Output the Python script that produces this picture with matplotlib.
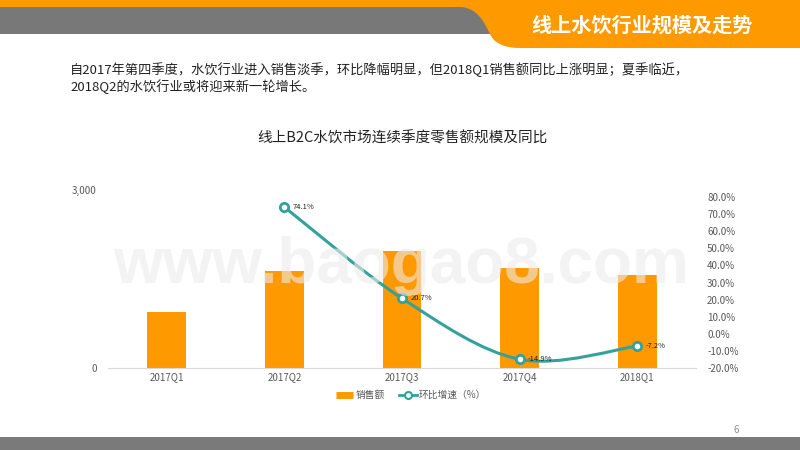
import matplotlib.pyplot as plt
import numpy as np
from matplotlib.path import Path
from matplotlib.patches import PathPatch, Rectangle
from matplotlib.lines import Line2D

plt.rcParams['font.family'] = ['Noto Sans CJK SC', 'DejaVu Sans']

# 数据
quarters = ['2017Q1', '2017Q2', '2017Q3', '2017Q4', '2018Q1']
sales = [944, 1642, 1980, 1684, 1563]
growth_q = ['2017Q2', '2017Q3', '2017Q4', '2018Q1']
growth = [74.1, 20.7, -14.9, -7.2]

header_title = '线上水饮行业规模及走势'
intro_text = ('自2017年第四季度，水饮行业进入销售淡季，环比降幅明显，但2018Q1销售额同比上涨明显；夏季临近，\n'
              '2018Q2的水饮行业或将迎来新一轮增长。')
chart_title = '线上B2C水饮市场连续季度零售额规模及同比'

orange = '#FF9900'
teal = '#35A19B'
gray_txt = '#595959'

fig = plt.figure(figsize=(8, 4.5), dpi=100)
W, H = 800, 450


def fx(px):
    return px / W


def fy(py):
    return 1 - py / H


# 页眉
fig.patches.append(Rectangle((0, fy(7)), 1, fy(0) - fy(7), transform=fig.transFigure,
                             facecolor=orange, edgecolor='none', zorder=0))
fig.patches.append(Rectangle((0, fy(34)), fx(490), fy(7) - fy(34), transform=fig.transFigure,
                             facecolor='#787878', edgecolor='none', zorder=0))
tab = [(fx(462), fy(0)), (fx(462), fy(7)), (fx(478), fy(9)), (fx(484), fy(22)), (fx(490), fy(34)),
       (fx(494), fy(44)), (fx(506), fy(48)), (fx(520), fy(48)), (1, fy(48)), (1, fy(0)), (fx(462), fy(0))]
codes = [Path.MOVETO, Path.LINETO, Path.CURVE4, Path.CURVE4, Path.CURVE4,
         Path.CURVE4, Path.CURVE4, Path.CURVE4, Path.LINETO, Path.LINETO, Path.CLOSEPOLY]
fig.patches.append(PathPatch(Path(tab, codes), transform=fig.transFigure,
                             facecolor=orange, edgecolor='none', zorder=1))
fig.text(fx(642), fy(25), header_title, color='white', fontsize=14.5, fontweight='bold',
         ha='center', va='center')

# 页脚
fig.patches.append(Rectangle((0, 0), 1, fy(437), transform=fig.transFigure,
                             facecolor='#7a7a7a', edgecolor='none', zorder=0))
fig.text(fx(736), fy(430), '6', color='#8c8c8c', fontsize=7, ha='center', va='center')

fig.text(fx(70), fy(78), intro_text, fontsize=9.5, color='#222222', ha='left', va='center',
         linespacing=1.25)
fig.text(fx(402), fy(138), chart_title, fontsize=10.5, color='#222222', ha='center', va='center')

# 图表
ax = fig.add_axes([fx(108), fy(368), fx(696) - fx(108), fy(190) - fy(368)])
x = np.arange(len(quarters))
ax.bar(x, sales, width=0.33, color=orange, zorder=2)
ax.set_xlim(-0.5, 4.5)
ax.set_ylim(0, 3000)
ax.set_yticks([0, 3000])
ax.set_yticklabels(['0', '3,000'])
ax.set_xticks(x)
ax.set_xticklabels(quarters)
for s in ['top', 'right', 'left']:
    ax.spines[s].set_visible(False)
ax.spines['bottom'].set_color('#d9d9d9')
ax.tick_params(length=0, labelsize=7, colors=gray_txt)
ax.tick_params(axis='y', pad=8)
ax.tick_params(axis='x', pad=3)

ax2 = ax.twinx()
ax2.set_ylim(-20, 84.1)
ax2.set_yticks(np.arange(-20, 81, 10))
ax2.set_yticklabels(['%.1f%%' % v for v in np.arange(-20, 81, 10)])
for s in ax2.spines.values():
    s.set_visible(False)
ax2.tick_params(length=0, labelsize=7, colors=gray_txt, pad=8)

# 平滑曲线
gx = np.array([quarters.index(q) for q in growth_q], dtype=float)
gy = np.array(growth, dtype=float)
pts = np.column_stack([gx, gy])
verts = [tuple(pts[0])]
cds = [Path.MOVETO]
n = len(pts)
for i in range(n - 1):
    p0 = pts[max(i - 1, 0)]
    p1 = pts[i]
    p2 = pts[i + 1]
    p3 = pts[min(i + 2, n - 1)]
    c1 = p1 + (p2 - p0) / 6
    c2 = p2 - (p3 - p1) / 6
    verts += [tuple(c1), tuple(c2), tuple(p2)]
    cds += [Path.CURVE4] * 3
ax2.add_patch(PathPatch(Path(verts, cds), facecolor='none', edgecolor=teal, lw=2.2, zorder=3))
ax2.plot(gx, gy, linestyle='none', marker='o', markersize=6, markerfacecolor='white',
         markeredgecolor=teal, markeredgewidth=2, zorder=4)
for xi, yi in zip(gx, gy):
    ax2.annotate('%.1f%%' % yi, (xi, yi), xytext=(6, 0), textcoords='offset points',
                 fontsize=5.5, color='#222222', va='center', ha='left', zorder=5)

# 水印
fig.text(fx(401), fy(283), 'www.baogao8.com', fontsize=46, fontweight='bold',
         family='Liberation Sans', color='#ebebeb', alpha=0.6, ha='center', va='baseline', zorder=10)

# 图例
handles = [Line2D([], [], color=orange, lw=5, solid_capstyle='butt'),
           Line2D([], [], color=teal, lw=2, marker='o', markersize=5,
                  markerfacecolor='white', markeredgecolor=teal, markeredgewidth=1.5)]
fig.legend(handles, ['销售额', '环比增速（%）'], loc='center', bbox_to_anchor=(fx(411), fy(395)),
           ncol=2, frameon=False, fontsize=7, labelcolor=gray_txt, handlelength=1.8,
           handletextpad=0.2, columnspacing=1.5)

fig.savefig('out.png', dpi=100)
